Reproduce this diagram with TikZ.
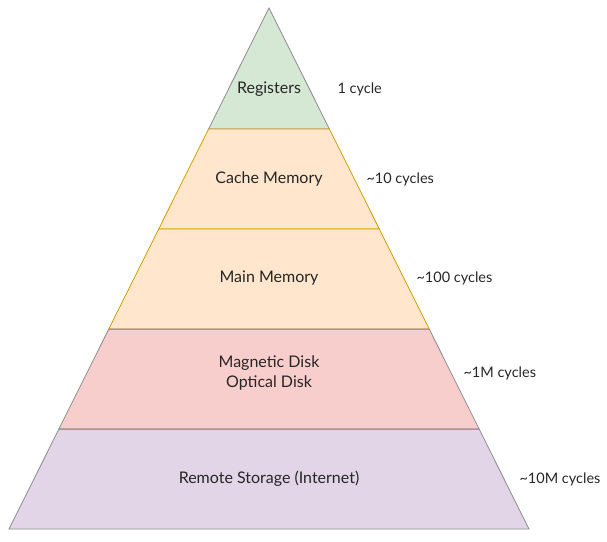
\documentclass[tikz,border=0pt]{standalone}
\usepackage{fontspec}
\setmainfont{Lato}
\usepackage{xcolor}
\usetikzlibrary{positioning}

\definecolor{regfill}{HTML}{D5E8D4}
\definecolor{cachefill}{HTML}{FFE6CC}
\definecolor{diskfill}{HTML}{F8CECC}
\definecolor{remotefill}{HTML}{E1D5E7}
\definecolor{orangeline}{HTML}{D79B00}
\definecolor{grayline}{HTML}{8C8C8C}

\begin{document}
\begin{tikzpicture}[x=1pt, y=-1pt,
  layer/.style={line width=0.8pt, line join=miter},
  level/.style={font=\fontsize{16}{20}\selectfont, align=center, text=black!85},
  cost/.style={font=\fontsize{14.5}{16}\selectfont, anchor=west, text=black!85},
]
  \useasboundingbox (0,0) rectangle (607,541);

  % Layers, top to bottom
  \draw[layer, fill=regfill, draw=grayline] (269,8) -- (329.4,129) -- (208.6,129) -- cycle;
  \draw[layer, fill=cachefill, draw=orangeline] (208.6,129) -- (329.4,129) -- (379.3,229) -- (158.7,229) -- cycle;
  \draw[layer, fill=cachefill, draw=orangeline] (158.7,229) -- (379.3,229) -- (429.2,329) -- (108.8,329) -- cycle;
  \draw[layer, fill=diskfill, draw=grayline] (108.8,329) -- (429.2,329) -- (479.1,429) -- (58.9,429) -- cycle;
  \draw[layer, fill=remotefill, draw=grayline] (58.9,429) -- (479.1,429) -- (529,529) -- (9,529) -- cycle;
  \draw[layer, draw=orangeline] (108.8,329) -- (429.2,329);
  \draw[layer, draw=orangeline] (58.9,429) -- (479.1,429);

  % Labels
  \node[level] (reg) at (269,89) {Registers};
  \node[level] (cache) at (269,179) {Cache Memory};
  \node[level] (main) at (269,278) {Main Memory};
  \node[level] (disk) at (269,373) {Magnetic Disk\\Optical Disk};
  \node[level] (remote) at (269,479) {Remote Storage (Internet)};

  % Access times
  \node[cost] (tReg) at (334,89) {1 cycle};
  \node[cost] (tCache) at (363,179) {\textasciitilde10 cycles};
  \node[cost] (tMain) at (413,278) {\textasciitilde100 cycles};
  \node[cost] (tDisk) at (460,373) {\textasciitilde1M cycles};
  \node[cost] (tRemote) at (516,479) {\textasciitilde10M cycles};
\end{tikzpicture}
\end{document}
